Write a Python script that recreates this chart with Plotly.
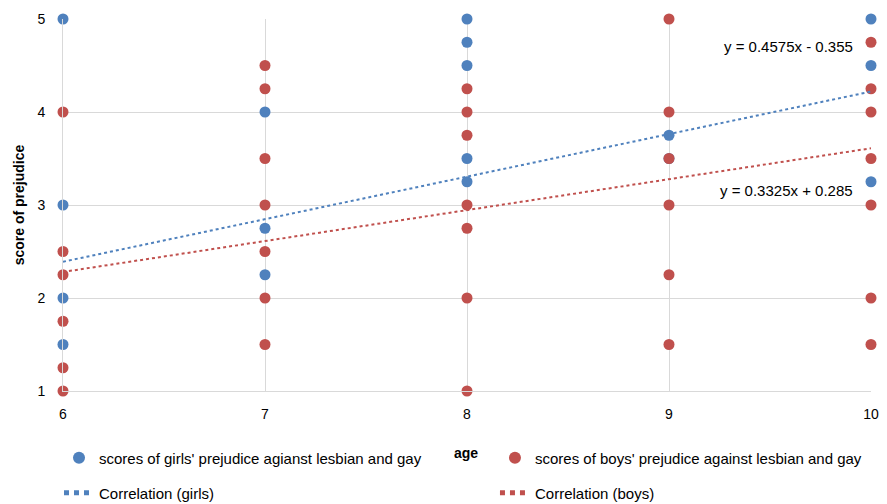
import plotly.graph_objects as go

# Data
girls_age = [6, 6, 6, 6,
             7, 7, 7,
             8, 8, 8, 8, 8,
             9, 9,
             10, 10, 10]
girls_score = [5, 3, 2, 1.5,
               4, 2.75, 2.25,
               5, 4.75, 4.5, 3.5, 3.25,
               3.75, 3.5,
               5, 4.5, 3.25]
boys_age = [6, 6, 6, 6, 6, 6,
            7, 7, 7, 7, 7, 7, 7,
            8, 8, 8, 8, 8, 8, 8,
            9, 9, 9, 9, 9, 9,
            10, 10, 10, 10, 10, 10, 10]
boys_score = [4, 2.5, 2.25, 1.75, 1.25, 1,
              4.5, 4.25, 3.5, 3, 2.5, 2, 1.5,
              4.25, 4, 3.75, 3, 2.75, 2, 1,
              5, 4, 3.5, 3, 2.25, 1.5,
              4.75, 4.25, 4, 3.5, 3, 2, 1.5]
# Trendline coefficients (from the chart's equations)
girls_slope, girls_intercept = 0.4575, -0.355
boys_slope, boys_intercept = 0.3325, 0.285
x_ticks = [6, 7, 8, 9, 10]
y_ticks = [1, 2, 3, 4, 5]

BLUE = "#4F81BD"
RED = "#C0504D"
FONT = "Liberation Sans"

trend_x = [min(x_ticks), max(x_ticks)]

fig = go.Figure()
fig.add_trace(go.Scatter(
    x=girls_age, y=girls_score, mode="markers",
    name="scores of girls' prejudice agianst lesbian and gay",
    marker=dict(color=BLUE, size=11), cliponaxis=False, legend="legend"))
fig.add_trace(go.Scatter(
    x=boys_age, y=boys_score, mode="markers",
    name="scores of boys' prejudice against lesbian and gay",
    marker=dict(color=RED, size=11), cliponaxis=False, legend="legend2"))
fig.add_trace(go.Scatter(
    x=trend_x, y=[girls_slope * v + girls_intercept for v in trend_x],
    mode="lines", name="Correlation (girls)", legend="legend3",
    line=dict(color=BLUE, width=2, dash="dot")))
fig.add_trace(go.Scatter(
    x=trend_x, y=[boys_slope * v + boys_intercept for v in trend_x],
    mode="lines", name="Correlation (boys)", legend="legend4",
    line=dict(color=RED, width=2, dash="dot")))

fig.add_annotation(x=10, y=4.70, xref="x", yref="y",
                   text="y = 0.4575x - 0.355", showarrow=False, xanchor="right",
                   xshift=-16, font=dict(size=15, color="#000000", family=FONT))
fig.add_annotation(x=10, y=3.16, xref="x", yref="y",
                   text="y = 0.3325x + 0.285", showarrow=False, xanchor="right",
                   xshift=-16, font=dict(size=15, color="#000000", family=FONT))
fig.add_annotation(x=0.499, y=-0.194, xref="paper", yref="paper",
                   text="<b>age</b>", showarrow=False,
                   font=dict(size=14, color="#000000", family=FONT))

legend_common = dict(orientation="h", xanchor="left", yanchor="middle",
                     xref="container", yref="container",
                     font=dict(size=15, family=FONT),
                     itemsizing="constant", bgcolor="rgba(0,0,0,0)")

fig.update_layout(
    width=887, height=504,
    margin=dict(l=55, r=24, t=11, b=121),
    paper_bgcolor="white", plot_bgcolor="white",
    font=dict(family=FONT, size=14, color="#000000"),
    showlegend=True,
    legend=dict(x=0.0575, y=0.107, **legend_common),
    legend2=dict(x=0.549, y=0.107, **legend_common),
    legend3=dict(x=0.0575, y=0.0377, **legend_common),
    legend4=dict(x=0.549, y=0.0377, **legend_common),
    xaxis=dict(range=[6, 10], tickvals=x_ticks, showgrid=True, gridcolor="#D9D9D9",
               gridwidth=1, zeroline=False, showline=True, linecolor="#D9D9D9",
               ticks="", tickfont=dict(size=14), ticklabelstandoff=10,
               automargin=False),
    yaxis=dict(range=[1, 5], tickvals=y_ticks, showgrid=True, gridcolor="#D9D9D9",
               gridwidth=1, zeroline=False, showline=True, linecolor="#D9D9D9",
               ticks="", tickfont=dict(size=14), ticklabelstandoff=14,
               automargin=False,
               title=dict(text="<b>score of prejudice</b>", standoff=9,
                          font=dict(size=14))),
)

fig.write_html("out.html")
